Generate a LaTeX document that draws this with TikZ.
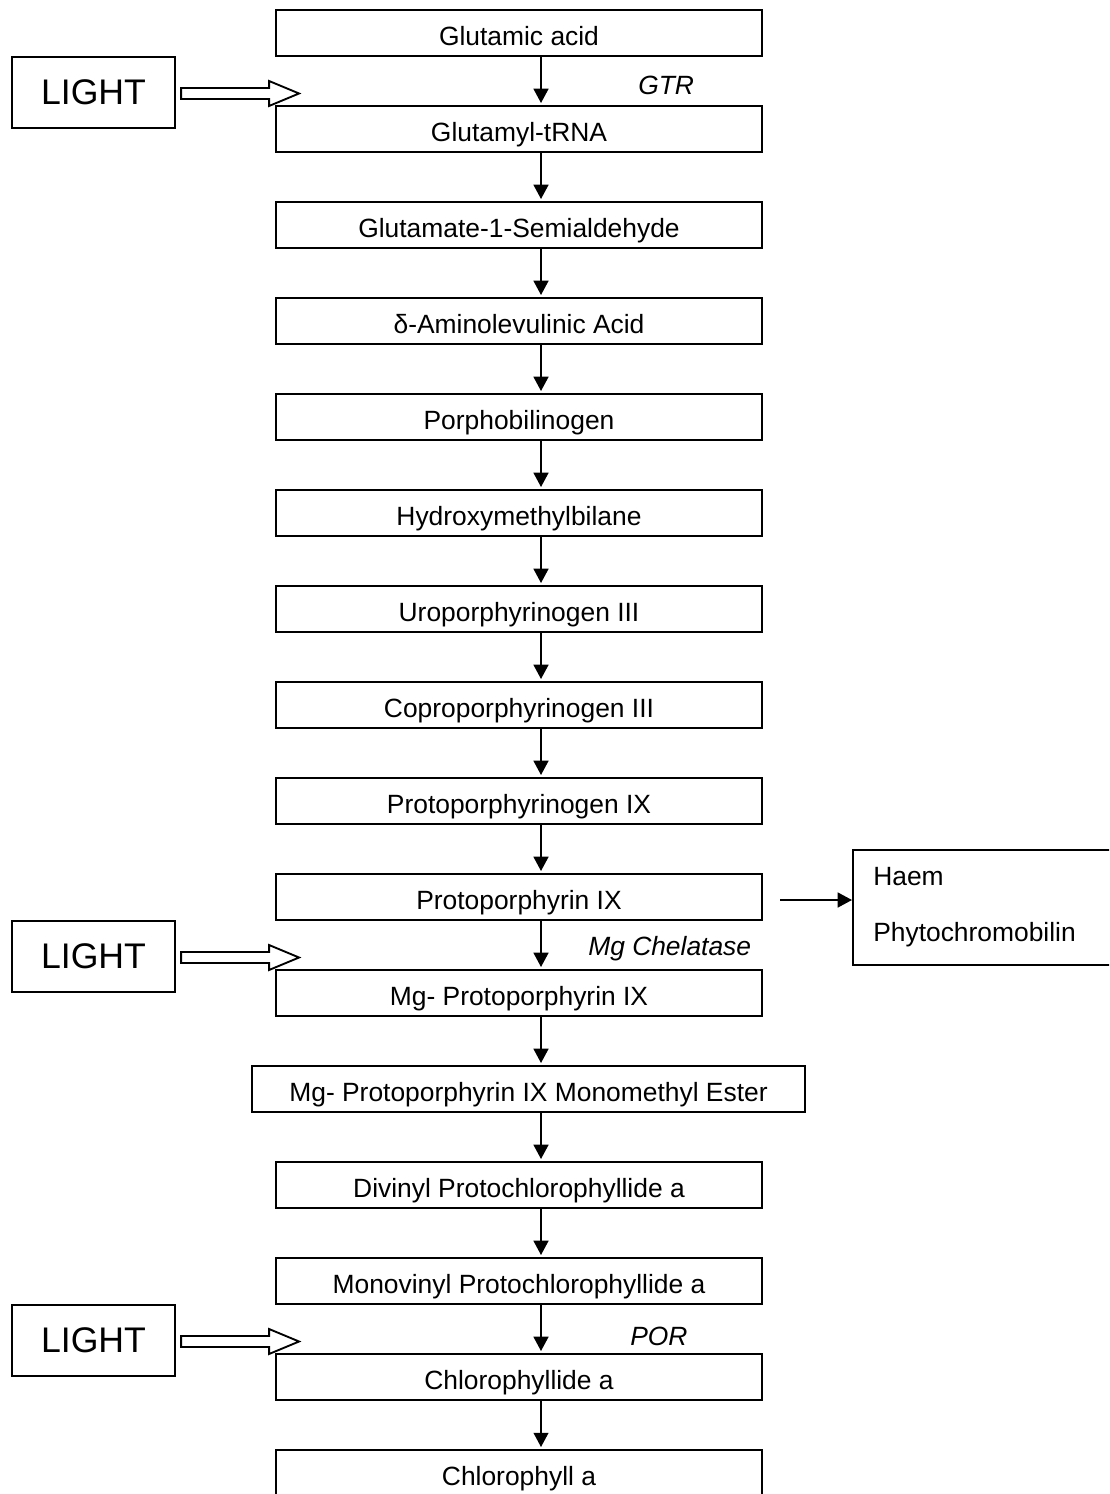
\documentclass[tikz,border=0pt]{standalone}
\usepackage{fontspec}
\setmainfont{Liberation Sans}
\usetikzlibrary{arrows.meta,calc}
\begin{document}
\begin{tikzpicture}[x=0.75pt,y=-0.75pt,
  stepbox/.style={draw,line width=1.5pt,inner sep=0pt,minimum width=364.5pt,
    text height=26.6pt,text depth=7.9pt,font=\fontsize{19.8}{24}\selectfont},
  lightbox/.style={draw,line width=1.6pt,inner sep=0pt,minimum width=122.25pt,
    minimum height=53.25pt,font=\fontsize{26.7}{32}\selectfont},
  conn/.style={line width=1.1pt,-{Triangle[length=10.7pt,width=11.2pt]},shorten >=1.5pt},
  enz/.style={font=\fontsize{19.8}{24}\selectfont\itshape,anchor=base west,inner sep=0pt},
  plain/.style={font=\fontsize{19.8}{24}\selectfont,anchor=base west,inner sep=0pt},
  hollow/.style={draw,line width=1.4pt,fill=white}
]
\useasboundingbox (0,0) rectangle (1109,1494);
\clip (0,0) rectangle (1109,1494);

% main chain
\foreach \i/\t in {1/Glutamic acid,2/Glutamyl-tRNA,3/Glutamate-1-Semialdehyde,
  4/δ-Aminolevulinic Acid,5/Porphobilinogen,6/Hydroxymethylbilane,
  7/Uroporphyrinogen III,8/Coproporphyrinogen III,9/Protoporphyrinogen IX,
  10/Protoporphyrin IX,11/Mg- Protoporphyrin IX,13/Divinyl Protochlorophyllide a,
  14/Monovinyl Protochlorophyllide a,15/Chlorophyllide a,16/Chlorophyll a}
  \node[stepbox] (b\i) at (519,{33+96*(\i-1)}) {\t};
\node[stepbox,minimum width=414.75pt] (b12) at (528.5,1089) {Mg- Protoporphyrin IX Monomethyl Ester};

\coordinate (ax) at (541,0);
\foreach \i [evaluate=\i as \j using int(\i+1)] in {1,...,15}
  \draw[conn] (b\i.south -| ax) -- (b\j.north -| ax);

% enzyme labels
\node[enz] (gtr) at (638,95) {GTR};
\node[enz] (mgch) at (588,955) {Mg Chelatase};
\node[enz] (por) at (630,1345) {POR};

% light boxes and hollow arrows
\foreach \k/\y in {1/92.5,2/956.5,3/1340.5}{
  \node[lightbox] (L\k) at (93.5,\y) {LIGHT};
  \draw[hollow] ($(L\k.east)+(5,-4.5)$) -- ++(88,0) -- ++(0,-7) -- ++(30,12.5)
    -- ++(-30,12.5) -- ++(0,-7) -- ++(-88,0) -- cycle;
}

% side products
\node[draw,line width=1.5pt,inner sep=0pt,minimum width=200.25pt,minimum height=86.25pt]
  (haem) at (986.5,907.5) {};
\node[plain] (haemt) at (873,885) {Haem};
\node[plain] (phyt) at (873,941) {Phytochromobilin};
\coordinate (hs) at (780,900);
\draw[conn,shorten >=0pt] (hs) -- (hs -| haem.west);
\end{tikzpicture}
\end{document}
